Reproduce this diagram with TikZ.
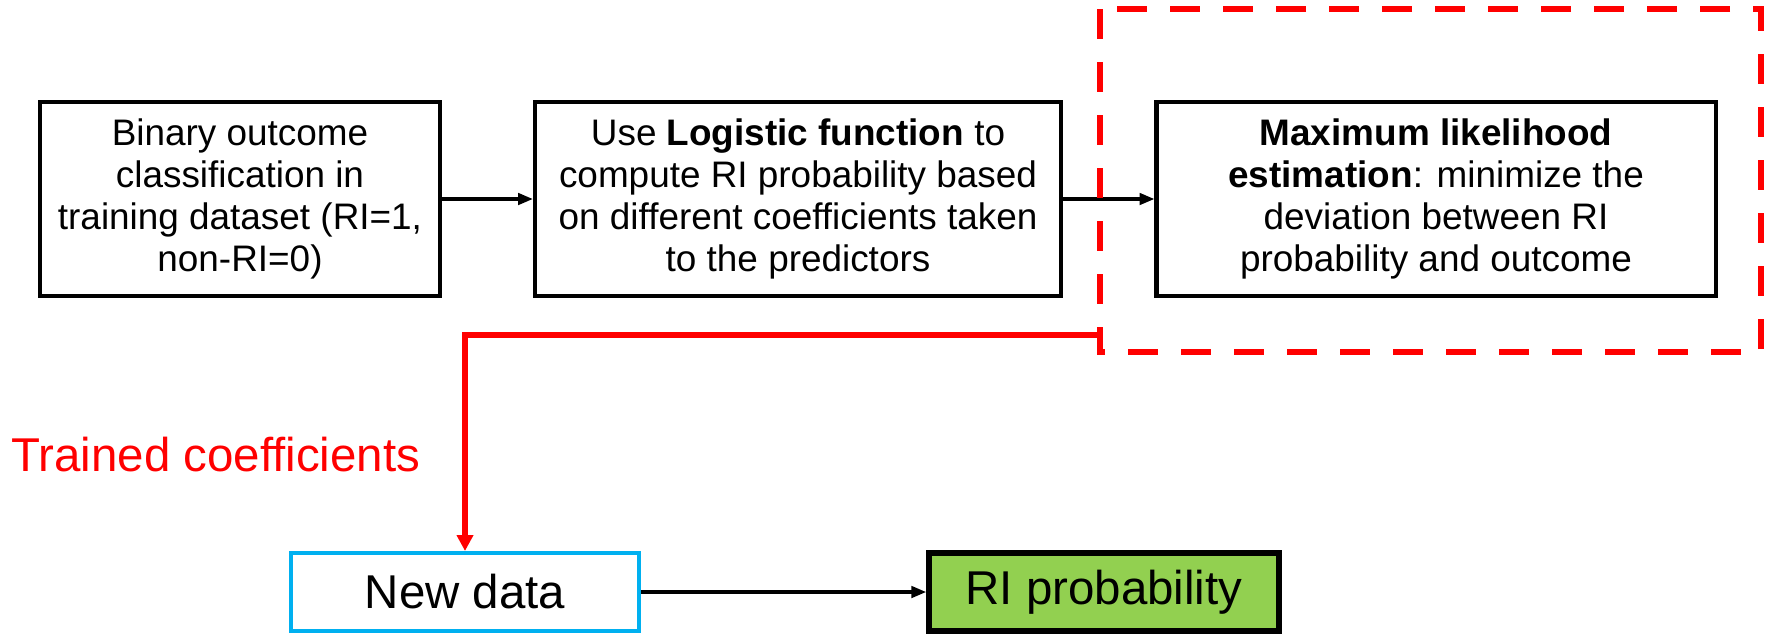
\documentclass[tikz,border=0pt]{standalone}
\usepackage{fontspec}
\setmainfont{Liberation Sans}
\usepackage{tikz}
\usetikzlibrary{arrows.meta, calc}

\definecolor{boxblue}{RGB}{0,176,240}
\definecolor{boxgreen}{RGB}{146,208,80}

\begin{document}
\begin{tikzpicture}[
    stepbox/.style={draw, line width=2.3pt, align=center, inner sep=0pt, minimum height=3.88cm,
        font=\fontsize{21}{24}\selectfont},
    smallbox/.style={draw, align=center, inner sep=0pt, minimum height=1.56cm, minimum width=7cm,
        font=\fontsize{27}{30}\selectfont},
    flow/.style={line width=1.9pt, -{Triangle[length=8.5pt,width=6.5pt]}}
]
    \useasboundingbox (0,0) rectangle (35.4,-12.66);

    \node[stepbox, minimum width=8cm] (binary) at (4.80,-3.98)
        {Binary outcome\\classification in\\training dataset (RI=1,\\non-RI=0)};
    \node[stepbox, minimum width=10.52cm] (logistic) at (15.96,-3.98)
        {Use \textbf{Logistic function} to\\compute RI probability based\\on different coefficients taken\\to the predictors};
    \node[stepbox, minimum width=11.18cm] (mle) at (28.72,-3.98)
        {\textbf{Maximum likelihood}\\\textbf{estimation}: minimize the\\deviation between RI\\probability and outcome};

    \draw[flow] (binary) -- (logistic);
    \draw[flow] (logistic) -- (mle);

    % highlighted training step
    \draw[red, line width=3.2pt, dash pattern=on 0.6cm off 0.46cm] (22.0,-0.18) rectangle (35.22,-7.04);

    \coordinate (tap) at (22.0,-6.70);
    \node[smallbox, draw=boxblue, line width=2.3pt, minimum width=6.96cm] (newdata) at (9.30,-11.84) {New data};
    \node[smallbox, fill=boxgreen, line width=3.1pt] (riprob) at (22.08,-11.84) {RI probability};

    \draw[red, line width=3.4pt, -{Triangle[length=9pt,width=9pt]}] (tap) -| (newdata.north);
    \node[red, anchor=west, font=\fontsize{27}{30}\selectfont, inner sep=0pt] (trained) at (0.22,-9.1) {Trained coefficients};

    \draw[flow] (newdata) -- (riprob);
\end{tikzpicture}
\end{document}
